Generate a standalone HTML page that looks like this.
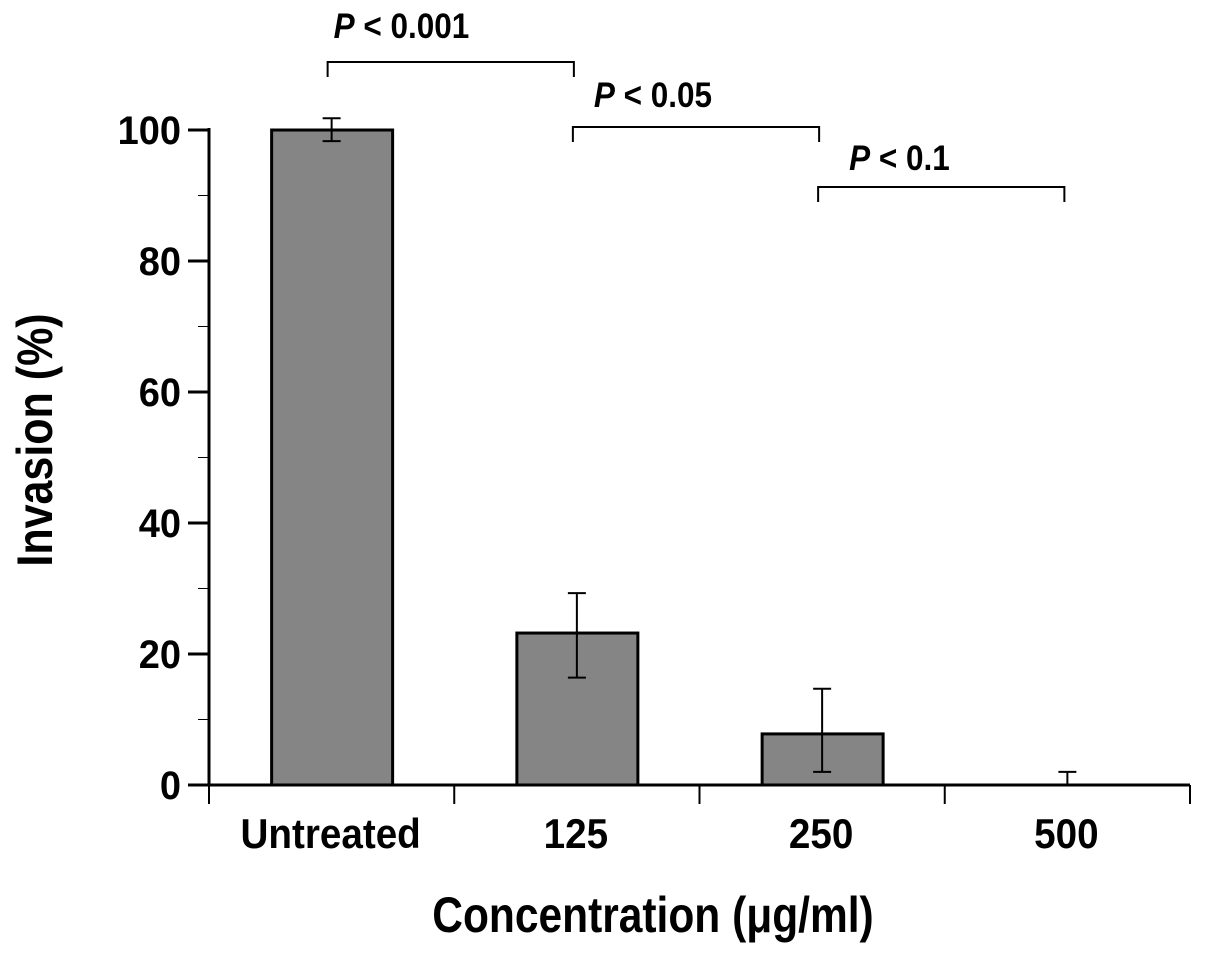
<!DOCTYPE html>
<html><head><meta charset="utf-8"><style>
body{margin:0;background:#fff}
svg text{font-family:"Liberation Sans",sans-serif;font-weight:bold;fill:#000}
</style></head><body>
<svg id="c" width="1205" height="953" xmlns="http://www.w3.org/2000/svg"></svg>
<script>
const categories=["Untreated","125","250","500"];
const values=[100,23.2,7.8,0];
const errLow=[98.3,16.4,2,0];
const errHigh=[101.8,29.3,14.7,2];
const yTicks=[0,20,40,60,80,100];
const yMinor=[10,30,50,70,90];
const sigLabels=["< 0.001","< 0.05","< 0.1"];
const sigPairs=[[0,1],[1,2],[2,3]];
const sigY=[62,127,187];
const sigTextDx=[6,21,31];
const sigTextDy=[-24,-20,-17];

const NS="http://www.w3.org/2000/svg";
const svg=document.getElementById('c');
const x0=209,x1=1190,y0=785,yTop=130;
const bw=(x1-x0)/categories.length;
const ys=v=>y0-(v/100)*(y0-yTop);
const xc=i=>x0+bw*(i+0.5);
function el(t,a,p){const e=document.createElementNS(NS,t);for(const k in a)e.setAttribute(k,a[k]);(p||svg).appendChild(e);return e;}
const sx=(x,s)=>`translate(${x},0) scale(${s},1) translate(${-x},0)`;

values.forEach((v,i)=>{
 const r=el('rect',{x:xc(i)-60,y:ys(v),width:121,height:y0-ys(v),fill:'#858585',stroke:'#000','stroke-width':3});
 
 
 const g=el('g',{stroke:'#000','stroke-width':2});
 
 
 el('line',{x1:xc(i),x2:xc(i),y1:ys(errLow[i]),y2:ys(errHigh[i])},g);
 el('line',{x1:xc(i)-9,x2:xc(i)+9,y1:ys(errHigh[i]),y2:ys(errHigh[i])},g);
 if(errLow[i]>0) el('line',{x1:xc(i)-9,x2:xc(i)+9,y1:ys(errLow[i]),y2:ys(errLow[i])},g);
 const t=el('text',{x:xc(i)-1,y:848,'text-anchor':'middle','font-size':42,transform:sx(xc(i)-1,0.92)});
 t.textContent=categories[i];
 
 
});
const ax=el('g',{stroke:'#000'});


el('line',{x1:x0,x2:x0,y1:yTop-2,y2:y0+1,'stroke-width':3},ax);
el('line',{x1:x0,x2:x1,y1:y0,y2:y0,'stroke-width':3},ax);
for(let i=0;i<=categories.length;i++)el('line',{x1:x0+bw*i,x2:x0+bw*i,y1:y0,y2:y0+19,'stroke-width':2},ax);
yTicks.forEach(v=>{
 el('line',{x1:188,x2:x0,y1:ys(v),y2:ys(v),'stroke-width':3},ax);
 const t=el('text',{x:181,y:ys(v)+14,'text-anchor':'end','font-size':40,transform:sx(181,0.95)});
 t.textContent=v;
 
 
});
yMinor.forEach(v=>el('line',{x1:198,x2:x0,y1:ys(v),y2:ys(v),'stroke-width':1},ax));
sigPairs.forEach((p,k)=>{
 const a=xc(p[0])-4,b=xc(p[1])-3,y=sigY[k];
 const g=el('g',{stroke:'#000','stroke-width':2,fill:'none'});
 
 
 el('path',{d:`M${a} ${y+15}V${y}H${b}V${y+15}`},g);
 const tx=a+sigTextDx[k];
 const t=el('text',{x:tx,y:y+sigTextDy[k],'font-size':35,transform:sx(tx,0.9)});
 t.innerHTML='<tspan font-style="italic">P</tspan> '+sigLabels[k];
 
 
});
const xt=el('text',{x:653,y:932,'text-anchor':'middle','font-size':50,transform:sx(653,0.85)});
xt.textContent='Concentration (μg/ml)';


const yt=el('text',{x:0,y:0,'text-anchor':'middle','font-size':50,transform:'translate(52,440) rotate(-90) scale(0.86,1)'});
yt.textContent='Invasion (%)';


</script>
</body></html>
